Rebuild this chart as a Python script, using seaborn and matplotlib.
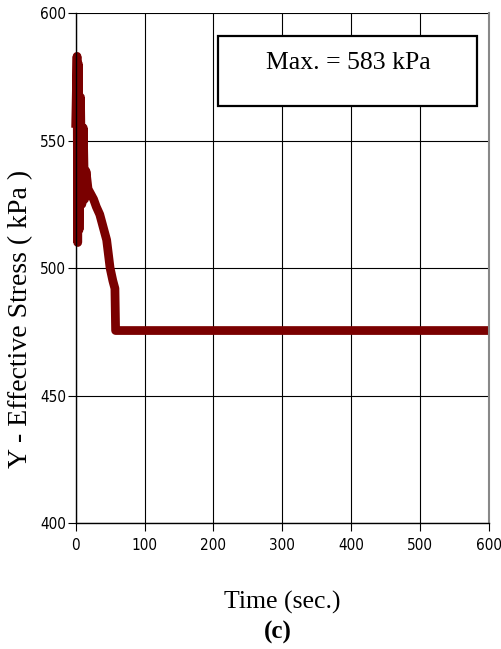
import matplotlib
matplotlib.use("Agg")
import matplotlib.pyplot as plt
import matplotlib.patches as mpatches
import seaborn as sns

# ---------------------------
# Data
# ---------------------------
time_sec = [0, 2, 3, 4, 5, 7, 9, 11, 13, 15, 18, 22, 26, 30, 35, 40, 45, 50, 54, 57, 58,
            100, 200, 300, 400, 500, 600]
stress_kpa = [555, 583, 510, 580, 515, 567, 525, 555, 527, 538, 531, 529, 527, 524, 521, 516, 511, 500, 495, 492, 475.5,
              475.5, 475.5, 475.5, 475.5, 475.5, 475.5]

x_ticks = [0, 100, 200, 300, 400, 500, 600]
y_ticks = [400, 450, 500, 550, 600]
max_label = "Max. = 583 kPa"

# ---------------------------
# Style
# ---------------------------
sns.set_style("white")
plt.rcParams["font.family"] = ["Liberation Serif", "DejaVu Serif"]
plt.rcParams["text.color"] = "black"
plt.rcParams["axes.labelcolor"] = "black"

fig = plt.figure(figsize=(5.01, 6.49), dpi=100)
ax = fig.add_axes([0.151, 0.194, 0.825, 0.786])

sns.lineplot(x=time_sec, y=stress_kpa, sort=False, estimator=None,
             color="#7a0000", linewidth=6.3, ax=ax, solid_capstyle="butt")
# the thick trace pokes a little past the left axis in the original
for ln in ax.get_lines():
    ln.set_clip_on(False)

ax.set_xlim(0, 600)
ax.set_ylim(400, 600)
ax.set_xticks(x_ticks)
ax.set_yticks(y_ticks)
ax.grid(True, color="black", linewidth=0.8)
ax.set_axisbelow(True)

for side in ["left", "bottom"]:
    ax.spines[side].set_color("black")
    ax.spines[side].set_linewidth(1.0)
ax.spines["top"].set_visible(False)
ax.spines["right"].set_color("#888888")
ax.spines["right"].set_linewidth(1.5)

ax.tick_params(axis="both", direction="out", length=6, width=0.8, color="black",
               labelcolor="black", left=True, bottom=True)
ax.tick_params(axis="y", pad=1)
ax.tick_params(axis="x", pad=5)
for lab in ax.get_xticklabels() + ax.get_yticklabels():
    lab.set_family(["DejaVu Sans"])
    lab.set_stretch("condensed")
    lab.set_fontsize(11)

ax.set_xlabel("Time (sec.)", fontsize=18.5, labelpad=27)
ax.set_ylabel("Y - Effective Stress ( kPa )", fontsize=20)
ax.yaxis.set_label_coords(-0.103, 0.40)

# annotation box
box = mpatches.Rectangle((0.344, 0.818), 0.627, 0.137, transform=ax.transAxes,
                         facecolor="white", edgecolor="black", linewidth=1.6, zorder=5)
ax.add_patch(box)
ax.text(0.659, 0.902, max_label, transform=ax.transAxes, ha="center", va="center",
        fontsize=18.5, zorder=6)

fig.text(0.555, 0.026, "(c)", ha="center", va="center", fontsize=18, fontweight="bold")

plt.savefig("out.png", dpi=100)
